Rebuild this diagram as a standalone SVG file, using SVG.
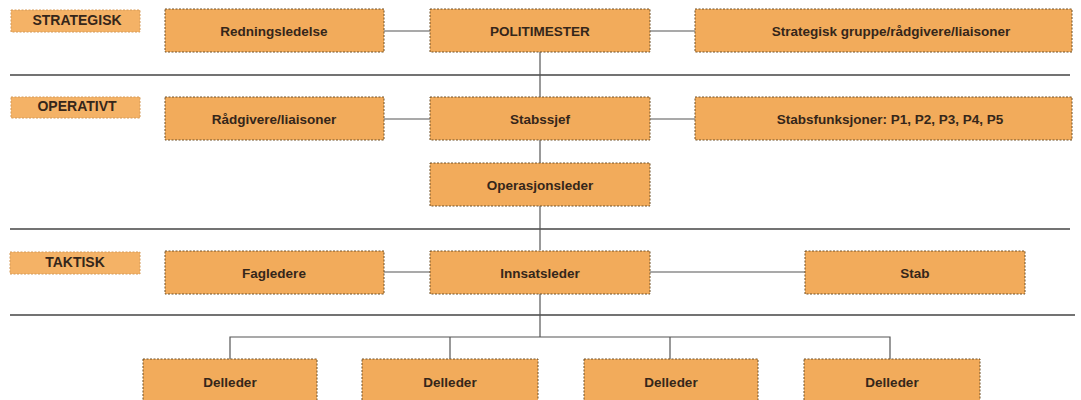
<svg xmlns="http://www.w3.org/2000/svg" width="1081" height="400" viewBox="0 0 1081 400">
<style>
.box{fill:#F2AB5B;stroke:#6e5028;stroke-width:1;stroke-dasharray:2 1.5}
.lbl{fill:#F4B266;stroke:#d49a58;stroke-width:1;stroke-dasharray:2 1.5}
.t{font-family:"Liberation Sans",Arial,sans-serif;font-weight:bold;font-size:13.5px;fill:#35261a;text-anchor:middle;dominant-baseline:central}
.tl{font-size:14px}
.ln{stroke:#555;stroke-width:1.2;fill:none}
.sep{stroke:#444;stroke-width:1.5;fill:none}
</style>
<rect width="1081" height="400" fill="#fff"/>
<g id="separators">
<line class="sep" x1="10" y1="75" x2="1070" y2="75"/>
<line class="sep" x1="10" y1="229" x2="1070" y2="229"/>
<line class="sep" x1="10" y1="315" x2="1075" y2="315"/>
</g>
<g id="connectors">
<line class="ln" x1="384" y1="31" x2="430" y2="31"/>
<line class="ln" x1="650" y1="31" x2="695" y2="31"/>
<line class="ln" x1="384" y1="119" x2="430" y2="119"/>
<line class="ln" x1="650" y1="119" x2="695" y2="119"/>
<line class="ln" x1="384" y1="272" x2="430" y2="272"/>
<line class="ln" x1="650" y1="272" x2="805" y2="272"/>
<line class="ln" x1="540" y1="52" x2="540" y2="97"/>
<line class="ln" x1="540" y1="140" x2="540" y2="163"/>
<line class="ln" x1="540" y1="206" x2="540" y2="250"/>
<line class="ln" x1="540" y1="294" x2="540" y2="337"/>
<polyline class="ln" points="230,359 230,337 890,337 890,359"/>
<line class="ln" x1="450" y1="337" x2="450" y2="359"/>
<line class="ln" x1="670" y1="337" x2="670" y2="359"/>
</g>
<g id="label-strategisk"><rect class="lbl" x="11" y="10" width="129" height="22"/><text class="t tl" x="77" y="20">STRATEGISK</text></g>
<g id="label-operativt"><rect class="lbl" x="11" y="97" width="129" height="21"/><text class="t tl" x="77" y="106">OPERATIVT</text></g>
<g id="label-taktisk"><rect class="lbl" x="10" y="252" width="130" height="22"/><text class="t tl" x="75" y="262">TAKTISK</text></g>
<g id="redningsledelse"><rect class="box" x="165" y="9" width="219" height="43"/><text class="t" x="274" y="31">Redningsledelse</text></g>
<g id="politimester"><rect class="box" x="430" y="9" width="220" height="43"/><text class="t" x="540" y="31">POLITIMESTER</text></g>
<g id="strategisk-gruppe"><rect class="box" x="695" y="9" width="377" height="43"/><text class="t" x="891" y="31">Strategisk gruppe/rådgivere/liaisoner</text></g>
<g id="radgivere"><rect class="box" x="165" y="97" width="219" height="43"/><text class="t" x="274" y="119">Rådgivere/liaisoner</text></g>
<g id="stabssjef"><rect class="box" x="430" y="97" width="220" height="43"/><text class="t" x="540" y="119">Stabssjef</text></g>
<g id="stabsfunksjoner"><rect class="box" x="695" y="97" width="377" height="43"/><text class="t" x="890" y="119">Stabsfunksjoner: P1, P2, P3, P4, P5</text></g>
<g id="operasjonsleder"><rect class="box" x="430" y="163" width="220" height="43"/><text class="t" x="540" y="185">Operasjonsleder</text></g>
<g id="fagledere"><rect class="box" x="165" y="251" width="219" height="43"/><text class="t" x="274" y="273">Fagledere</text></g>
<g id="innsatsleder"><rect class="box" x="430" y="251" width="220" height="43"/><text class="t" x="540" y="273">Innsatsleder</text></g>
<g id="stab"><rect class="box" x="805" y="251" width="220" height="43"/><text class="t" x="915" y="273">Stab</text></g>
<g id="delleder1"><rect class="box" x="143" y="359" width="174" height="44"/><text class="t" x="230" y="382">Delleder</text></g>
<g id="delleder2"><rect class="box" x="362" y="359" width="176" height="44"/><text class="t" x="450" y="382">Delleder</text></g>
<g id="delleder3"><rect class="box" x="584" y="359" width="174" height="44"/><text class="t" x="671" y="382">Delleder</text></g>
<g id="delleder4"><rect class="box" x="804" y="359" width="176" height="44"/><text class="t" x="892" y="382">Delleder</text></g>
</svg>
